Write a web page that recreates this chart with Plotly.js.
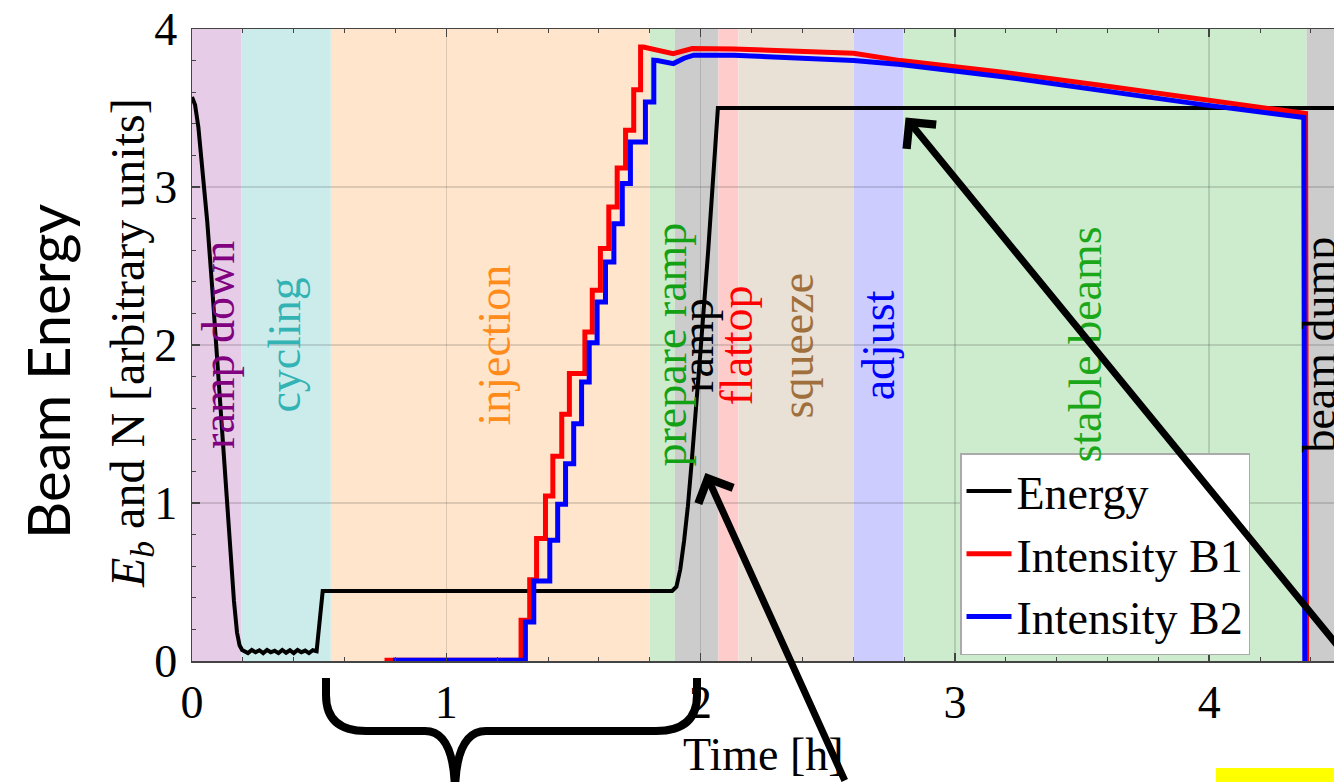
<!DOCTYPE html>
<html><head><meta charset="utf-8">
<script src="https://cdn.plot.ly/plotly-3.0.1.min.js"></script>
<style>html,body{margin:0;padding:0;overflow:hidden;background:#fff}</style>
</head><body><div id="chart" style="width:1380px;height:782px"></div>
<script>
// ---- phases ----
const phaseNames = ['ramp down','cycling','injection','prepare ramp','ramp','flattop','squeeze','adjust','stable beams','beam dump'];
const phaseStart = [0, 0.195, 0.546, 1.800, 1.899, 2.070, 2.149, 2.602, 2.798, 4.383];
const phaseEnd   = [0.195, 0.546, 1.800, 1.899, 2.070, 2.149, 2.602, 2.798, 4.383, 4.80];
const phaseLabelX = [0.102, 0.36, 1.186, 1.878, 1.985, 2.141, 2.381, 2.699, 3.51, 4.43];
const phaseLabelY = 2.0;
const phaseFill = ['#e6cce6','#ccecec','#ffe5cc','#cdebcd','#cccccc','#ffcccc','#e9e0d6','#ccccff','#cdebcd','#cccccc'];
const phaseTextColor = ['#800080','#33b3b3','#ff8c1a','#14a014','#000000','#ff0000','#a0703c','#0000ff','#1aa81a','#000000'];

// ---- energy ----
const energyT = [0,0.012,0.025,0.035,0.045,0.06,0.08,0.10,0.12,0.14,0.151,0.165,0.177,0.187,0.197,
  0.205,0.22,0.235,0.25,0.265,0.28,0.295,0.31,0.325,0.34,0.355,0.37,0.385,0.40,0.415,0.43,0.445,0.46,0.475,
  0.49,0.514,1.888,1.905,1.92,1.935,1.95,1.965,1.98,2.0,2.03,2.068,4.80];
const energyV = [3.57,3.52,3.38,3.22,3.0,2.78,2.35,1.88,1.42,0.95,0.70,0.38,0.18,0.10,0.07,
  0.065,0.05,0.07,0.055,0.068,0.05,0.07,0.055,0.065,0.05,0.07,0.052,0.068,0.05,0.07,0.055,0.066,0.05,0.068,
  0.062,0.443,0.443,0.47,0.58,0.76,0.98,1.26,1.55,1.97,2.6,3.5,3.5];

// ---- intensity B1 ----
const b1Start = [0.757, 0.004];
const b1StepT = [1.294,1.328,1.355,1.390,1.419,1.454,1.484,1.545,1.574,1.606,1.639,1.672,1.705,1.737,1.764];
const b1StepV = [0.258,0.515,0.775,1.044,1.296,1.561,1.819,2.082,2.346,2.61,2.873,3.12,3.359,3.616,3.886];
const b1TailT = [1.775,1.892,1.93,1.967,2.13,2.602,2.786,3.18,3.572,3.966,4.379,4.383];
const b1TailV = [3.886,3.844,3.864,3.876,3.874,3.846,3.80,3.728,3.644,3.553,3.465,0.0];

// ---- intensity B2 ----
const b2Start = [0.79, 0.004];
const b2StepT = [1.311,1.344,1.407,1.438,1.469,1.501,1.532,1.562,1.593,1.626,1.659,1.692,1.724,1.783,1.816];
const b2StepV = [0.247,0.506,0.764,0.992,1.249,1.502,1.766,2.015,2.272,2.525,2.768,3.022,3.285,3.538,3.802];
const b2TailT = [1.83,1.893,1.935,1.973,2.13,2.602,2.786,3.18,3.572,3.966,4.372,4.376];
const b2TailV = [3.80,3.781,3.815,3.834,3.834,3.80,3.775,3.70,3.612,3.523,3.44,0.0];

const xTickVals = [0,1,2,3,4];
const yTickVals = [0,1,2,3,4];

function buildSteps(start, stepT, stepV, tailT, tailV) {
  const xs = [start[0]], ys = [start[1]];
  let prev = start[1];
  for (let i = 0; i < stepT.length; i++) {
    xs.push(stepT[i], stepT[i]); ys.push(prev, stepV[i]); prev = stepV[i];
  }
  return {x: xs.concat(tailT), y: ys.concat(tailV)};
}
const b1 = buildSteps(b1Start, b1StepT, b1StepV, b1TailT, b1TailV);
const b2 = buildSteps(b2Start, b2StepT, b2StepV, b2TailT, b2TailV);

const W = 1380, H = 782, ML = 192, MR = 0, MT = 29, MB = 121;
const PW = W - ML - MR, PH = H - MT - MB;
const X = p => (p - ML) / PW;           // pixel -> paper x
const Y = p => (H - MB - p) / PH;       // pixel -> paper y

const serif = 'Liberation Serif, Times New Roman, serif';
const FS = 46;

const shapes = phaseNames.map((n, i) => ({
  type: 'rect', xref: 'x', yref: 'y', layer: 'below',
  x0: phaseStart[i], x1: phaseEnd[i], y0: 0, y1: 4,
  fillcolor: phaseFill[i], line: {width: 0}
}));
// curly brace under the axis
shapes.push({
  type: 'path', xref: 'paper', yref: 'paper', layer: 'above',
  path: `M ${X(326)} ${Y(678)} L ${X(326)} ${Y(695)} Q ${X(326)} ${Y(731)} ${X(366)} ${Y(731)} L ${X(425)} ${Y(731)} Q ${X(455)} ${Y(731)} ${X(455)} ${Y(795)} Q ${X(455)} ${Y(731)} ${X(486)} ${Y(731)} L ${X(656)} ${Y(731)} Q ${X(697)} ${Y(731)} ${X(697)} ${Y(695)} L ${X(697)} ${Y(678)}`,
  line: {color: '#000', width: 8}
});
// yellow box
shapes.push({type:'rect', xref:'paper', yref:'paper', layer:'above',
  x0: X(1216), x1: X(1420), y0: Y(768), y1: Y(800), fillcolor:'#ffff00', line:{width:0}});

const annotations = phaseNames.map((n, i) => ({
  x: phaseLabelX[i], y: phaseLabelY, xref: 'x', yref: 'y', text: n, showarrow: false,
  textangle: -90, xanchor: 'center', yanchor: 'middle',
  font: {family: serif, size: FS, color: phaseTextColor[i]}
}));
// axis titles
annotations.push({xref: 'paper', yref: 'paper', x: X(763), y: Y(755), text: 'Time [h]', showarrow: false,
  xanchor: 'center', yanchor: 'middle', font: {family: serif, size: FS, color: '#000'}});
annotations.push({xref: 'paper', yref: 'paper', x: X(131), y: Y(343),
  text: '<i>E</i><sub><i>b</i></sub> and N [arbitrary units]', showarrow: false, textangle: -90,
  xanchor: 'center', yanchor: 'middle', font: {family: serif, size: 48, color: '#000'}});
annotations.push({
  xref: 'paper', yref: 'paper', x: X(47), y: Y(372), text: 'Beam Energy', showarrow: false,
  textangle: -90, xanchor: 'center', yanchor: 'middle',
  font: {family: 'Lato, sans-serif', size: 58, color: '#000'}
});
annotations.push({x: 2.019, y: 1.19, xref: 'x', yref: 'y', text: '', showarrow: true,
  ax: 140, ay: 330, arrowhead: 4, arrowsize: 1.05, arrowwidth: 7, arrowcolor: '#000', standoff: 0});
annotations.push({x: 2.806, y: 3.44, xref: 'x', yref: 'y', text: '', showarrow: true,
  ax: 500, ay: 580, arrowhead: 4, arrowsize: 1.05, arrowwidth: 7, arrowcolor: '#000', standoff: 0});

const traces = [
  {x: energyT, y: energyV, mode: 'lines', name: 'Energy', line: {color: '#000', width: 4}},
  {x: b1.x, y: b1.y, mode: 'lines', name: 'Intensity B1', line: {color: '#ff0000', width: 5}},
  {x: b2.x, y: b2.y, mode: 'lines', name: 'Intensity B2', line: {color: '#0000ff', width: 5}}
];

const axisCommon = {
  showline: true, linecolor: '#444', linewidth: 1.5, mirror: 'ticks',
  ticks: 'inside', ticklen: 8, tickwidth: 1.5, tickcolor: '#444',
  showgrid: true, gridcolor: 'rgba(0,0,0,0.13)', gridwidth: 1.5, zeroline: false,
  tickfont: {family: serif, size: FS, color: '#000'}
};

const layout = {
  width: W, height: H, margin: {l: ML, r: MR, t: MT, b: MB},
  paper_bgcolor: '#fff', plot_bgcolor: '#fff',
  font: {family: serif, color: '#000'},
  showlegend: true,
  legend: {x: X(960), y: Y(655), xanchor: 'left', yanchor: 'bottom', bgcolor: '#fff',
    bordercolor: '#aaaaaa', borderwidth: 1.5, itemwidth: 45,
    font: {family: serif, size: FS, color: '#000'}},
  xaxis: Object.assign({}, axisCommon, {
    range: [0, PW / 254.3], tickvals: xTickVals, ticktext: xTickVals.map(String),
    minor: {dtick: 0.2, ticks: 'inside', ticklen: 4, tickwidth: 1, tickcolor: '#444', showgrid: false}
  }),
  yaxis: Object.assign({}, axisCommon, {
    range: [0, 4], tickvals: yTickVals, ticktext: yTickVals.map(String),
    minor: {dtick: 0.2, ticks: 'inside', ticklen: 4, tickwidth: 1, tickcolor: '#444', showgrid: false},
    ticklabelstandoff: 4
  }),
  shapes: shapes, annotations: annotations
};

Plotly.newPlot('chart', traces, layout, {displayModeBar: false, staticPlot: true});
</script></body></html>
